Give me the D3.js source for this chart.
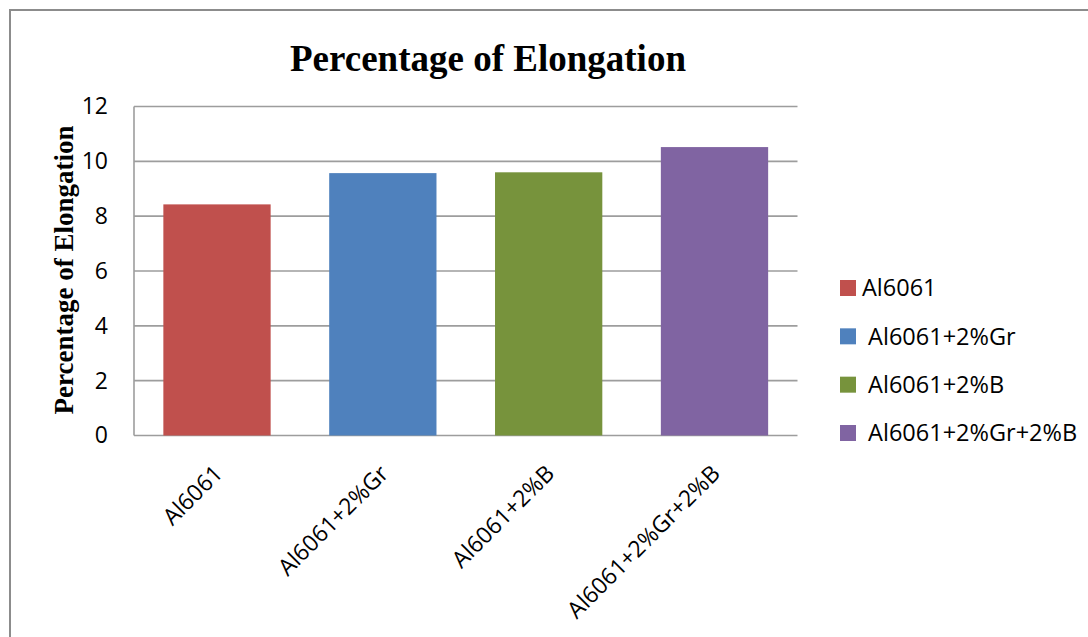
<!DOCTYPE html>
<html>
<head>
<meta charset="utf-8">
<script src="https://cdn.jsdelivr.net/npm/d3@7"></script>
<style>
  html, body { margin: 0; padding: 0; background: #fff; }
  svg { display: block; }
</style>
</head>
<body>
<script>
// Elongation results per alloy composition
const categories = ["Al6061", "Al6061+2%Gr", "Al6061+2%B", "Al6061+2%Gr+2%B"];
const elongation = [8.43, 9.57, 9.60, 10.52];
const legendLabels = ["Al6061", " Al6061+2%Gr", " Al6061+2%B", " Al6061+2%Gr+2%B"];
const barColors = ["#C0504D", "#4F81BD", "#77933C", "#8064A2"];
const yTicks = [0, 2, 4, 6, 8, 10, 12];
const chartTitle = "Percentage of Elongation";
const yTitle = "Percentage of Elongation";

const W = 1088, H = 637;
const plot = { left: 134, right: 797.5, top: 106.5, bottom: 435.5 };
const sans = "'Open Sans', sans-serif";
const serif = "'Liberation Serif', 'Times New Roman', serif";

const svg = d3.select("body").append("svg")
  .attr("width", W).attr("height", H);

// outer chart frame (runs past the right and bottom edges)
svg.append("rect")
  .attr("x", 10).attr("y", 10)
  .attr("width", 1100).attr("height", 700)
  .attr("fill", "#fff")
  .attr("stroke", "#8c8c8c").attr("stroke-width", 2);

const x = d3.scaleBand()
  .domain(categories)
  .range([plot.left, plot.right])
  .paddingInner(0.353)
  .paddingOuter(0.177);

const y = d3.scaleLinear()
  .domain([0, 12])
  .range([plot.bottom, plot.top]);

// horizontal gridlines
svg.append("g")
  .selectAll("line")
  .data(yTicks)
  .join("line")
  .attr("x1", plot.left).attr("x2", plot.right)
  .attr("y1", d => y(d)).attr("y2", d => y(d))
  .attr("stroke", "#9d9d9d").attr("stroke-width", 1.6);

// bars
svg.append("g")
  .selectAll("rect")
  .data(categories)
  .join("rect")
  .attr("x", d => x(d))
  .attr("width", x.bandwidth())
  .attr("y", (d, i) => y(elongation[i]))
  .attr("height", (d, i) => y(0) - y(elongation[i]))
  .attr("fill", (d, i) => barColors[i]);

// value axis line
svg.append("line")
  .attr("x1", plot.left).attr("x2", plot.left)
  .attr("y1", plot.top).attr("y2", plot.bottom)
  .attr("stroke", "#9d9d9d").attr("stroke-width", 1.6);

// value axis labels
const yAxis = d3.axisLeft(y).tickValues(yTicks).tickSize(0).tickPadding(26);
const gy = svg.append("g")
  .attr("transform", `translate(${plot.left},0)`)
  .call(yAxis);
gy.select(".domain").remove();
gy.selectAll("text")
  .attr("font-family", sans)
  .attr("font-size", 23)
  .attr("fill", "#000");

// category labels, rotated, ending just right of each band centre
svg.append("g")
  .selectAll("text")
  .data(categories)
  .join("text")
  .attr("transform", d => `translate(${x(d) + x.bandwidth() / 2 + 7},475) rotate(-45)`)
  .attr("text-anchor", "end")
  .attr("font-family", sans)
  .attr("font-size", 23)
  .attr("fill", "#000")
  .text(d => d);

// chart title
svg.append("text")
  .attr("x", 488).attr("y", 71)
  .attr("text-anchor", "middle")
  .attr("font-family", serif)
  .attr("font-weight", "bold")
  .attr("font-size", 37)
  .attr("fill", "#000")
  .text(chartTitle);

// value axis title
svg.append("text")
  .attr("transform", "translate(73,270) rotate(-90)")
  .attr("text-anchor", "middle")
  .attr("font-family", serif)
  .attr("font-weight", "bold")
  .attr("font-size", 27)
  .attr("fill", "#000")
  .text(yTitle);

// legend
const legendY = d3.scalePoint().domain(categories).range([288, 433]);
const lg = svg.append("g")
  .selectAll("g")
  .data(categories)
  .join("g")
  .attr("transform", d => `translate(840,${legendY(d)})`);
lg.append("rect")
  .attr("x", 0).attr("y", -8)
  .attr("width", 16).attr("height", 16)
  .attr("fill", (d, i) => barColors[i]);
lg.append("text")
  .attr("x", 22).attr("y", 0).attr("dy", "0.36em")
  .attr("font-family", sans)
  .attr("font-size", 23.5)
  .attr("fill", "#000")
  .style("white-space", "pre")
  .text((d, i) => legendLabels[i]);
</script>
</body>
</html>
